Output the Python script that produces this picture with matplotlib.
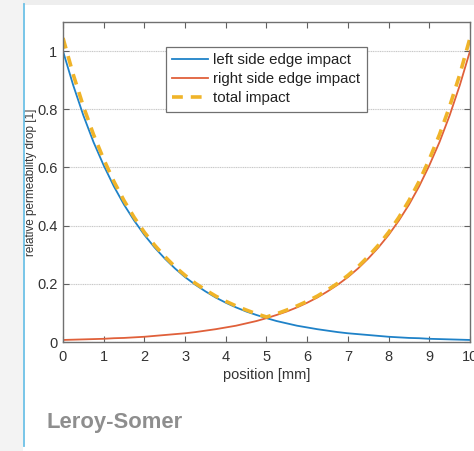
import numpy as np
import matplotlib.pyplot as plt
from matplotlib.patches import Rectangle
from matplotlib.lines import Line2D

plt.rcParams['font.family'] = ['Liberation Sans', 'DejaVu Sans']

# position along the lamination [mm], 0.25 mm steps
position = np.arange(0, 10.01, 0.25)

# relative permeability drop caused by the left edge
left_edge = [1.000, 0.883, 0.779, 0.687, 0.607, 0.535, 0.472, 0.417, 0.368,
             0.325, 0.287, 0.253, 0.223, 0.197, 0.174, 0.153, 0.135, 0.119,
             0.105, 0.093, 0.082, 0.072, 0.064, 0.056, 0.050, 0.044, 0.039,
             0.034, 0.030, 0.027, 0.024, 0.021, 0.018, 0.016, 0.014, 0.013,
             0.011, 0.010, 0.009, 0.008, 0.007]
# the right edge is the mirror image
right_edge = left_edge[::-1]
total_half = [1.045, 0.920, 0.810, 0.713, 0.628, 0.552, 0.486, 0.428, 0.377,
              0.333, 0.294, 0.259, 0.229, 0.202, 0.179, 0.158, 0.140, 0.124,
              0.110, 0.097, 0.086]
total = total_half + total_half[-2::-1]

xticks = list(range(0, 11))
yticks = [0, 0.2, 0.4, 0.6, 0.8, 1]
yticklabels = ['0', '0.2', '0.4', '0.6', '0.8', '1']

W, H = 474, 451
fig = plt.figure(figsize=(W / 100, H / 100), dpi=100)

# page background
fig.patches.append(Rectangle((0, 0), 23 / W, 1, transform=fig.transFigure,
                             facecolor='#f3f3f3', edgecolor='none', zorder=-5))
fig.patches.append(Rectangle((23 / W, 1 - 5 / H), 1, 5 / H, transform=fig.transFigure,
                             facecolor='#eeeeee', edgecolor='none', zorder=-5))
fig.lines.append(Line2D([23.5 / W, 23.5 / W], [0.01, 1 - 4 / H], transform=fig.transFigure,
                        color='#6cc0e6', lw=1.3))

ax = fig.add_axes([63 / W, 1 - 342 / H, 407 / W, 320 / H])
ax.plot(position, left_edge, color='#1f82c8', lw=1.3, label='left side edge impact')
ax.plot(position, right_edge, color='#e0603a', lw=1.3, label='right side edge impact')
ax.plot(position, total, color='#f0b429', lw=2.6, ls=(0, (3, 2.2)), label='total impact')

ax.set_xlim(0, 10)
ax.set_ylim(0, 1.1)
ax.set_xticks(xticks)
ax.set_yticks(yticks)
ax.set_yticklabels(yticklabels)
ax.tick_params(direction='in', length=4, width=0.8, colors='#606060',
               labelcolor='#333333', labelsize=10.5, top=True, right=True)
ax.tick_params(axis='x', pad=6)
ax.tick_params(axis='y', pad=4)
ax.grid(axis='y', color='#c8c8c8', lw=0.8, ls=(0, (1, 0.6)))
for s in ax.spines.values():
    s.set_color('#707070')
    s.set_linewidth(1.0)

ax.set_xlabel('position [mm]', fontsize=10.5, color='#333333', labelpad=3)
ax.set_ylabel('relative permeability drop [1]', fontsize=8.5, color='#333333', labelpad=0)

leg = ax.legend(loc='upper left', bbox_to_anchor=(0.252, 0.923), fontsize=10.8,
                frameon=True, fancybox=False, edgecolor='#707070', framealpha=1,
                borderpad=0.45, labelspacing=0.32, handlelength=2.4, handletextpad=0.3,
                borderaxespad=0)
leg.get_frame().set_linewidth(0.9)
for t in leg.get_texts():
    t.set_color('#222222')

fig.text(47 / W, 1 - 428 / H, 'Leroy-Somer', fontsize=15.8, fontweight='bold',
         color='#8e8e8e', ha='left', va='baseline')

fig.savefig('out.png', dpi=100)
